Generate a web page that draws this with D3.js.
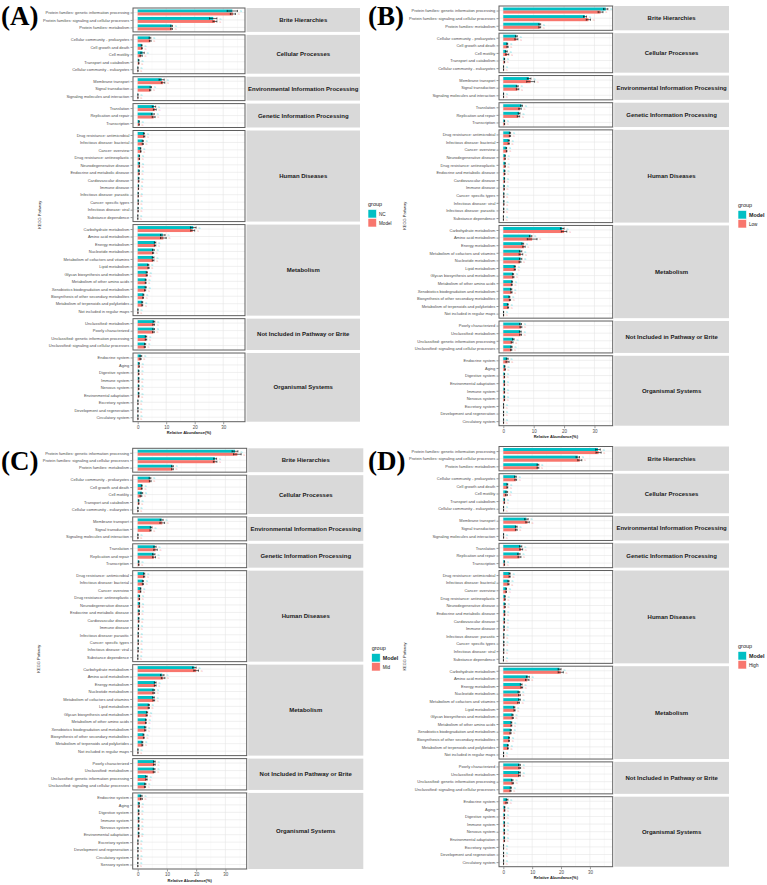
<!DOCTYPE html>
<html><head><meta charset="utf-8">
<script src="https://cdn.jsdelivr.net/npm/d3@7"></script>
<style>body{margin:0;background:#fff}svg{display:block}text{font-family:"Liberation Sans",Arial,sans-serif}text.plab{font-family:"Liberation Serif","Times New Roman",serif}</style>
</head><body><svg id="c" width="767" height="885"></svg>
<script>
// ---------------- DATA ----------------
const facetNames = ["Brite Hierarchies","Cellular Processes","Environmental Information Processing","Genetic Information Processing","Human Diseases","Metabolism","Not Included in Pathway or Brite","Organismal Systems"];
const xTicks = [0,10,20,30];

const brite = ["Protein families: genetic information processing","Protein families: signaling and cellular processes","Protein families: metabolism"];
const cellular = ["Cellular community - prokaryotes","Cell growth and death","Cell motility","Transport and catabolism","Cellular community - eukaryotes"];
const envir = ["Membrane transport","Signal transduction","Signaling molecules and interaction"];
const genetic = ["Translation","Replication and repair","Transcription"];

const catsA = [...brite,...cellular,...envir,...genetic,
 "Drug resistance: antimicrobial","Infectious disease: bacterial","Cancer: overview","Drug resistance: antineoplastic","Neurodegenerative disease","Endocrine and metabolic disease","Cardiovascular disease","Immune disease","Infectious disease: parasitic","Cancer: specific types","Infectious disease: viral","Substance dependence",
 "Carbohydrate metabolism","Amino acid metabolism","Energy metabolism","Nucleotide metabolism","Metabolism of cofactors and vitamins","Lipid metabolism","Glycan biosynthesis and metabolism","Metabolism of other amino acids","Xenobiotics biodegradation and metabolism","Biosynthesis of other secondary metabolites","Metabolism of terpenoids and polyketides","Not included in regular maps",
 "Unclassified: metabolism","Poorly characterized","Unclassified: genetic information processing","Unclassified: signaling and cellular processes",
 "Endocrine system","Aging","Digestive system","Immune system","Nervous system","Environmental adaptation","Excretory system","Development and regeneration","Circulatory system"];
const sizesA = [3,5,3,3,12,12,4,9];
const groupsA = ["NC","Model"];
const meanA1 = [33.2,26.5,11.9, 4.3,1.4,1.7,0.4,0.1, 8.4,4.6,0.1, 5.7,5.3,0.5, 2.2,1.8,1.0,0.6,0.6,0.5,0.4,0.3,0.2,0.2,0.15,0.05, 19.5,8.8,6.1,5.5,5.4,3.7,3.2,2.8,2.8,2.0,1.6,0.1, 5.7,5.6,2.9,2.6, 1.1,0.5,0.4,0.4,0.4,0.4,0.1,0.1,0.1];
const sdA1   = [1.8,1.3,0.3, 0.3,0.15,0.6,0.05,0.02, 0.9,0.25,0.02, 0.6,0.5,0.05, 0.2,0.2,0.1,0.06,0.06,0.05,0.04,0.03,0.02,0.02,0.02,0.01, 1.0,0.8,0.25,0.3,0.3,0.2,0.2,0.15,0.2,0.15,0.15,0.02, 0.3,0.3,0.25,0.2, 0.3,0.05,0.04,0.04,0.04,0.05,0.01,0.01,0.01];
const meanA2 = [33.4,27.1,11.9, 4.4,1.5,1.2,0.4,0.1, 8.9,4.4,0.1, 6.0,5.6,0.5, 2.3,1.8,1.1,0.6,0.6,0.5,0.4,0.3,0.2,0.2,0.15,0.05, 19.3,9.0,6.1,5.4,5.4,3.8,3.2,2.8,2.6,1.9,1.6,0.1, 5.6,5.5,2.9,2.5, 1.0,0.5,0.4,0.4,0.4,0.4,0.1,0.1,0.1];
const sdA2   = [0.9,0.7,0.3, 0.3,0.15,0.4,0.05,0.02, 0.6,0.2,0.02, 0.5,0.5,0.05, 0.2,0.2,0.1,0.06,0.06,0.05,0.04,0.03,0.02,0.02,0.02,0.01, 0.7,1.0,0.25,0.2,0.3,0.2,0.2,0.15,0.2,0.15,0.15,0.02, 0.3,0.3,0.25,0.2, 0.2,0.05,0.04,0.04,0.04,0.05,0.01,0.01,0.01];

const catsB = [...brite,...cellular,...envir,...genetic,
 "Drug resistance: antimicrobial","Infectious disease: bacterial","Cancer: overview","Neurodegenerative disease","Drug resistance: antineoplastic","Endocrine and metabolic disease","Cardiovascular disease","Immune disease","Cancer: specific types","Infectious disease: viral","Infectious disease: parasitic","Substance dependence",
 "Carbohydrate metabolism","Amino acid metabolism","Energy metabolism","Metabolism of cofactors and vitamins","Nucleotide metabolism","Lipid metabolism","Glycan biosynthesis and metabolism","Metabolism of other amino acids","Xenobiotics biodegradation and metabolism","Biosynthesis of other secondary metabolites","Metabolism of terpenoids and polyketides","Not included in regular maps",
 "Poorly characterized","Unclassified: metabolism","Unclassified: genetic information processing","Unclassified: signaling and cellular processes",
 "Endocrine system","Aging","Digestive system","Environmental adaptation","Immune system","Nervous system","Excretory system","Development and regeneration","Circulatory system"];
const sizesB = [3,5,3,3,12,12,4,9];
const groupsB = ["Model","Low"];
const meanB1 = [33.7,26.9,12.0, 4.3,1.3,1.0,0.4,0.1, 8.5,4.6,0.1, 6.0,5.2,0.4, 2.2,1.8,1.0,0.6,0.6,0.5,0.4,0.3,0.2,0.2,0.15,0.05, 19.4,9.0,6.4,5.7,5.7,3.8,3.2,2.9,2.6,2.0,1.5,0.1, 5.7,5.6,3.3,2.7, 1.3,0.5,0.4,0.4,0.4,0.4,0.1,0.1,0.1];
const sdB1   = [0.7,0.5,0.3, 0.3,0.15,0.3,0.05,0.02, 0.6,0.3,0.02, 0.3,0.3,0.05, 0.2,0.2,0.1,0.06,0.06,0.05,0.04,0.03,0.02,0.02,0.02,0.01, 0.6,0.4,0.3,0.4,0.4,0.2,0.2,0.15,0.2,0.15,0.15,0.02, 0.3,0.3,0.25,0.2, 0.3,0.05,0.04,0.04,0.04,0.05,0.01,0.01,0.01];
const meanB2 = [32.0,28.0,12.0, 4.3,1.4,1.3,0.4,0.1, 9.0,4.7,0.1, 5.5,5.0,0.4, 2.2,1.8,1.1,0.6,0.6,0.5,0.4,0.3,0.2,0.2,0.15,0.05, 20.0,9.5,6.8,5.8,5.5,3.8,3.3,2.8,2.7,2.2,1.6,0.1, 5.8,5.7,2.9,2.6, 1.4,0.6,0.4,0.4,0.4,0.4,0.1,0.1,0.1];
const sdB2   = [0.8,0.7,0.3, 0.5,0.2,0.5,0.05,0.02, 1.3,0.4,0.02, 0.4,0.4,0.05, 0.2,0.2,0.1,0.06,0.06,0.05,0.04,0.03,0.02,0.02,0.02,0.01, 0.9,1.6,0.4,0.6,0.3,0.2,0.2,0.15,0.2,0.2,0.15,0.02, 0.3,0.3,0.3,0.2, 0.5,0.1,0.04,0.04,0.04,0.05,0.01,0.01,0.01];

const catsC = [...brite,...cellular,...envir,...genetic,
 "Drug resistance: antimicrobial","Infectious disease: bacterial","Cancer: overview","Drug resistance: antineoplastic","Neurodegenerative disease","Endocrine and metabolic disease","Cardiovascular disease","Immune disease","Infectious disease: parasitic","Cancer: specific types","Infectious disease: viral","Substance dependence",
 "Carbohydrate metabolism","Amino acid metabolism","Energy metabolism","Nucleotide metabolism","Metabolism of cofactors and vitamins","Lipid metabolism","Glycan biosynthesis and metabolism","Metabolism of other amino acids","Xenobiotics biodegradation and metabolism","Biosynthesis of other secondary metabolites","Metabolism of terpenoids and polyketides","Not included in regular maps",
 "Poorly characterized","Unclassified: metabolism","Unclassified: genetic information processing","Unclassified: signaling and cellular processes",
 "Endocrine system","Aging","Digestive system","Immune system","Nervous system","Environmental adaptation","Excretory system","Development and regeneration","Circulatory system","Sensory system"];
const sizesC = [3,5,3,3,12,12,4,10];
const groupsC = ["Model","Mid"];
const meanC1 = [33.3,26.5,11.9, 4.2,1.4,1.4,0.4,0.1, 8.2,4.6,0.1, 5.9,5.5,0.4, 2.2,1.8,1.0,0.6,0.6,0.5,0.4,0.3,0.2,0.2,0.15,0.05, 19.4,8.4,6.0,5.5,5.4,3.8,3.2,2.8,2.6,2.0,1.6,0.1, 5.7,5.6,3.0,2.6, 1.2,0.5,0.4,0.4,0.4,0.4,0.1,0.1,0.1,0.05];
const sdC1   = [1.0,0.5,0.3, 0.3,0.15,0.3,0.05,0.02, 0.5,0.3,0.02, 0.4,0.4,0.05, 0.2,0.2,0.1,0.06,0.06,0.05,0.04,0.03,0.02,0.02,0.02,0.01, 0.6,0.6,0.3,0.3,0.3,0.2,0.2,0.15,0.2,0.15,0.15,0.02, 0.3,0.3,0.25,0.2, 0.3,0.05,0.04,0.04,0.04,0.05,0.01,0.01,0.01,0.01];
const meanC2 = [34.1,26.5,11.9, 4.3,1.4,1.1,0.4,0.1, 8.4,4.4,0.1, 6.1,5.6,0.4, 2.2,1.8,1.0,0.6,0.6,0.5,0.4,0.3,0.2,0.2,0.15,0.05, 20.0,8.7,6.0,5.5,5.5,3.8,3.1,2.8,2.6,2.1,1.6,0.1, 5.7,5.6,3.0,2.5, 1.3,0.5,0.4,0.4,0.4,0.4,0.1,0.1,0.1,0.05];
const sdC2   = [1.3,0.6,0.3, 0.3,0.15,0.3,0.05,0.02, 0.8,0.2,0.02, 0.6,0.5,0.05, 0.2,0.2,0.1,0.06,0.06,0.05,0.04,0.03,0.02,0.02,0.02,0.01, 0.8,0.6,0.3,0.3,0.3,0.2,0.2,0.15,0.2,0.15,0.15,0.02, 0.3,0.3,0.25,0.2, 0.3,0.05,0.04,0.04,0.04,0.05,0.01,0.01,0.01,0.01];

const catsD = [...brite,...cellular,...envir,...genetic,
 "Drug resistance: antimicrobial","Infectious disease: bacterial","Cancer: overview","Drug resistance: antineoplastic","Neurodegenerative disease","Endocrine and metabolic disease","Cardiovascular disease","Immune disease","Infectious disease: parasitic","Cancer: specific types","Infectious disease: viral","Substance dependence",
 "Carbohydrate metabolism","Amino acid metabolism","Energy metabolism","Nucleotide metabolism","Metabolism of cofactors and vitamins","Lipid metabolism","Glycan biosynthesis and metabolism","Metabolism of other amino acids","Xenobiotics biodegradation and metabolism","Biosynthesis of other secondary metabolites","Metabolism of terpenoids and polyketides","Not included in regular maps",
 "Poorly characterized","Unclassified: metabolism","Unclassified: genetic information processing","Unclassified: signaling and cellular processes",
 "Endocrine system","Aging","Digestive system","Immune system","Nervous system","Environmental adaptation","Excretory system","Development and regeneration","Circulatory system"];
const sizesD = [3,5,3,3,12,12,4,9];
const groupsD = ["Model","High"];
const meanD1 = [32.8,25.8,12.0, 4.2,1.4,1.2,0.4,0.1, 8.0,4.5,0.1, 6.0,5.4,0.4, 2.2,1.8,1.0,0.6,0.6,0.5,0.4,0.3,0.2,0.2,0.15,0.05, 19.5,8.5,6.2,5.4,5.6,3.8,3.2,2.8,2.6,2.0,1.6,0.1, 5.6,5.6,3.1,2.6, 1.3,0.5,0.4,0.4,0.4,0.4,0.1,0.1,0.1];
const sdD1   = [0.8,0.6,0.3, 0.3,0.15,0.3,0.05,0.02, 0.6,0.3,0.02, 0.4,0.4,0.05, 0.2,0.2,0.1,0.06,0.06,0.05,0.04,0.03,0.02,0.02,0.02,0.01, 0.5,0.5,0.3,0.3,0.3,0.2,0.2,0.15,0.2,0.15,0.15,0.02, 0.3,0.3,0.25,0.2, 0.3,0.05,0.04,0.04,0.04,0.05,0.01,0.01,0.01];
const meanD2 = [33.0,26.5,12.0, 4.3,1.4,1.1,0.4,0.1, 8.4,4.5,0.1, 6.2,5.6,0.4, 2.2,1.8,1.0,0.6,0.6,0.5,0.4,0.3,0.2,0.2,0.15,0.05, 19.9,8.3,6.4,5.6,5.3,3.9,3.3,2.8,2.5,2.0,1.6,0.1, 5.7,5.6,3.3,2.5, 1.2,0.5,0.4,0.4,0.4,0.4,0.1,0.1,0.1];
const sdD2   = [0.9,0.7,0.3, 0.3,0.15,0.3,0.05,0.02, 0.6,0.3,0.02, 0.5,0.5,0.05, 0.2,0.2,0.1,0.06,0.06,0.05,0.04,0.03,0.02,0.02,0.02,0.01, 0.9,0.6,0.3,0.3,0.3,0.2,0.2,0.15,0.2,0.15,0.15,0.02, 0.3,0.3,0.25,0.2, 0.3,0.05,0.04,0.04,0.04,0.05,0.01,0.01,0.01];

// ---------------- DRAWING ----------------
const COL1 = "#00BFC4", COL2 = "#F8766D";
const svg = d3.select("#c");

function drawPanel(cfg) {
  const g = svg.append("g");
  const x = d3.scaleLinear().domain(cfg.xDomain).range([cfg.plotL, cfg.plotR]);
  const units = d3.sum(cfg.sizes, n => n + 0.2);
  const step = (cfg.bottom - cfg.top - (cfg.sizes.length - 1) * cfg.gap) / units;
  const bw = step * 0.4;
  const minor = [5,15,25,35].filter(v => v < cfg.xDomain[1]);
  let y0 = cfg.top, idx = 0;
  cfg.sizes.forEach((n, fi) => {
    const h = (n + 0.2) * step;
    const ids = d3.range(idx, idx + n);
    const y = d3.scalePoint().domain(ids.map(i => cfg.cats[i])).range([y0, y0 + h]).padding(0.6);
    const pg = g.append("g");
    pg.append("rect").attr("x", cfg.plotL).attr("y", y0).attr("width", cfg.plotR - cfg.plotL).attr("height", h).attr("fill", "#fff");
    pg.selectAll(".mn").data(minor).join("line").attr("x1", d => x(d)).attr("x2", d => x(d)).attr("y1", y0).attr("y2", y0 + h).attr("stroke", "#f3f3f3").attr("stroke-width", 0.4);
    pg.selectAll(".mj").data(xTicks).join("line").attr("x1", d => x(d)).attr("x2", d => x(d)).attr("y1", y0).attr("y2", y0 + h).attr("stroke", "#e6e6e6").attr("stroke-width", 0.6);
    pg.selectAll(".hz").data(ids).join("line").attr("x1", cfg.plotL).attr("x2", cfg.plotR).attr("y1", i => y(cfg.cats[i])).attr("y2", i => y(cfg.cats[i])).attr("stroke", "#e6e6e6").attr("stroke-width", 0.6);
    const series = [
      {m: cfg.m1, s: cfg.s1, c: COL1, off: -bw},
      {m: cfg.m2, s: cfg.s2, c: COL2, off: 0}
    ];
    series.forEach(se => {
      pg.selectAll(null).data(ids).join("rect")
        .attr("x", x(0)).attr("y", i => y(cfg.cats[i]) + se.off)
        .attr("width", i => Math.max(0, x(se.m[i]) - x(0))).attr("height", bw).attr("fill", se.c);
    });
    series.forEach(se => {
      const cy = i => y(cfg.cats[i]) + se.off + bw / 2;
      pg.selectAll(null).data(ids).join("line")
        .attr("x1", i => x(se.m[i] - se.s[i])).attr("x2", i => x(se.m[i] + se.s[i]))
        .attr("y1", cy).attr("y2", cy).attr("stroke", "#000").attr("stroke-width", 0.6);
      [-1, 1].forEach(sg => {
        pg.selectAll(null).data(ids).join("line")
          .attr("x1", i => x(se.m[i] + sg * se.s[i])).attr("x2", i => x(se.m[i] + sg * se.s[i]))
          .attr("y1", i => cy(i) - bw * 0.35).attr("y2", i => cy(i) + bw * 0.35)
          .attr("stroke", "#000").attr("stroke-width", 0.6);
      });
      pg.selectAll(null).data(ids).join("text")
        .attr("x", i => x(se.m[i] + se.s[i]) + 2.2).attr("y", i => cy(i) + 1.3)
        .attr("font-size", 3.6).attr("fill", se.c).attr("fill-opacity", 0.6).text("a");
    });
    pg.append("rect").attr("x", cfg.plotL).attr("y", y0).attr("width", cfg.plotR - cfg.plotL).attr("height", h)
      .attr("fill", "none").attr("stroke", "#5e5e5e").attr("stroke-width", 1);
    // y axis
    const ya = pg.append("g").attr("transform", `translate(${cfg.plotL - 0.5},0)`)
      .call(d3.axisLeft(y).tickSize(2).tickPadding(1.2));
    ya.select(".domain").remove();
    ya.selectAll("line").attr("stroke", "#333").attr("stroke-width", 0.5);
    ya.selectAll("text").attr("font-size", 4).attr("fill", "#4d4d4d").attr("font-family", null);
    // strip
    pg.append("rect").attr("x", cfg.plotR + 1.5).attr("y", y0).attr("width", cfg.stripR - cfg.plotR - 1.5).attr("height", h).attr("fill", "#d9d9d9");
    pg.append("text").attr("x", (cfg.plotR + 1.5 + cfg.stripR) / 2).attr("y", y0 + h / 2 + 2.1)
      .attr("text-anchor", "middle").attr("font-size", 6).attr("font-weight", "bold").attr("fill", "#1a1a1a").text(facetNames[fi]);
    idx += n; y0 += h + cfg.gap;
  });
  // x axis
  const xa = g.append("g").attr("transform", `translate(0,${cfg.bottom + 0.5})`)
    .call(d3.axisBottom(x).tickValues(xTicks).tickSize(2).tickPadding(1.5));
  xa.select(".domain").remove();
  xa.selectAll("line").attr("stroke", "#333").attr("stroke-width", 0.5);
  xa.selectAll("text").attr("font-size", 4.5).attr("fill", "#4d4d4d").attr("font-family", null);
  g.append("text").attr("x", (cfg.plotL + cfg.plotR) / 2).attr("y", cfg.bottom + 12.5)
    .attr("text-anchor", "middle").attr("font-size", 4).attr("font-weight", "bold").attr("fill", "#1a1a1a").text("Relative Abundance(%)");
  g.append("text").attr("transform", `translate(${cfg.yTitleX},${(cfg.top + cfg.bottom) / 2}) rotate(-90)`)
    .attr("text-anchor", "middle").attr("font-size", 4).attr("fill", "#333").text("KEGG Pathway");
  // legend
  const L = cfg.legend;
  g.append("text").attr("x", L.x).attr("y", L.y).attr("font-size", 5.5).attr("fill", "#1a1a1a").text("group");
  [COL1, COL2].forEach((c, k) => {
    g.append("rect").attr("x", L.x).attr("y", L.y + 3.5 + k * 9).attr("width", 8.5).attr("height", 8.5).attr("fill", c).attr("stroke", "#fff").attr("stroke-width", 0.6);
    g.append("text").attr("x", L.x + 11).attr("y", L.y + 9.8 + k * 9)
      .attr("font-size", k === 0 && cfg.boldFirst ? 5.4 : 4.6).attr("font-weight", k === 0 && cfg.boldFirst ? "bold" : "normal")
      .attr("fill", "#1a1a1a").text(cfg.groups[k]);
  });
  // panel label
  g.append("text").attr("class", "plab").attr("x", cfg.labX).attr("y", cfg.labY)
    .attr("font-size", 27).attr("font-weight", "bold").attr("fill", "#000").text(cfg.label);
}

drawPanel({label:"(A)", labX:1, labY:25, cats:catsA, sizes:sizesA, groups:groupsA, m1:meanA1, s1:sdA1, m2:meanA2, s2:sdA2,
  plotL:133, plotR:245, stripR:360, top:8, bottom:421.7, gap:3, xDomain:[-1.65,37.65], yTitleX:40.5, legend:{x:368, y:206}, boldFirst:false});
drawPanel({label:"(B)", labX:368, labY:25, cats:catsB, sizes:sizesB, groups:groupsB, m1:meanB1, s1:sdB1, m2:meanB2, s2:sdB2,
  plotL:499, plotR:612.7, stripR:729, top:6, bottom:425.7, gap:2.85, xDomain:[-1.41,36.0], yTitleX:405.5, legend:{x:738, y:207}, boldFirst:true});
drawPanel({label:"(C)", labX:1, labY:470, cats:catsC, sizes:sizesC, groups:groupsC, m1:meanC1, s1:sdC1, m2:meanC2, s2:sdC2,
  plotL:132.7, plotR:246.7, stripR:363.3, top:448.3, bottom:869, gap:3, xDomain:[-1.71,37.3], yTitleX:40, legend:{x:371.7, y:650}, boldFirst:true});
drawPanel({label:"(D)", labX:368, labY:470, cats:catsD, sizes:sizesD, groups:groupsD, m1:meanD1, s1:sdD1, m2:meanD2, s2:sdD2,
  plotL:499, plotR:612.7, stripR:729, top:446.5, bottom:866.7, gap:2.85, xDomain:[-1.49,37.9], yTitleX:405.5, legend:{x:738, y:648}, boldFirst:true});
</script></body></html>
